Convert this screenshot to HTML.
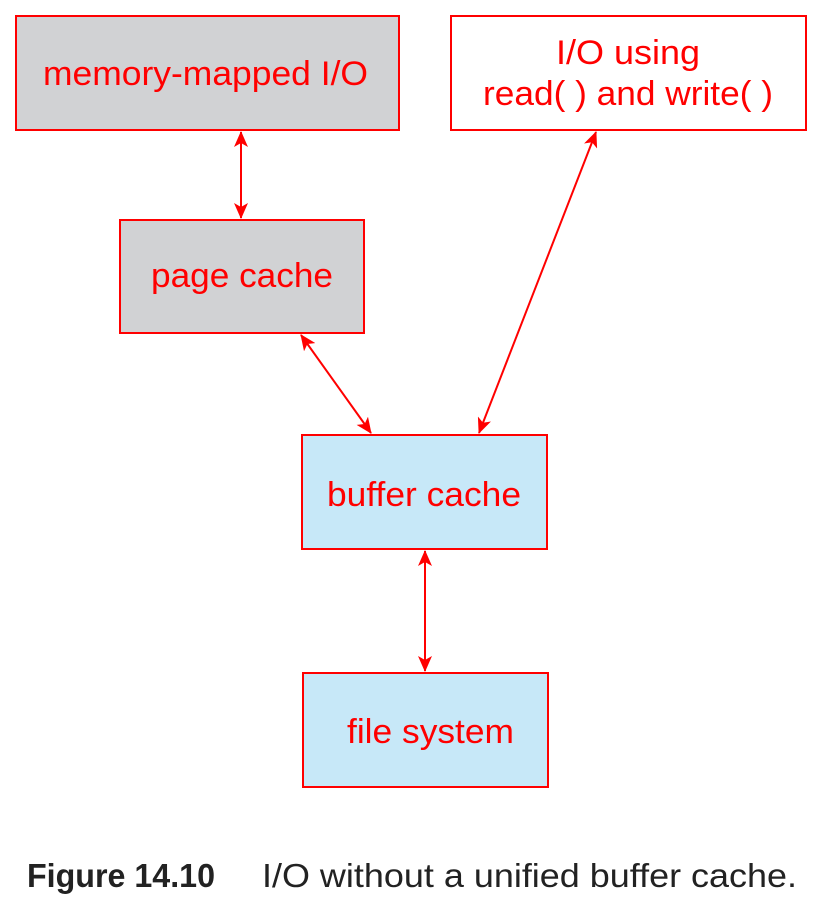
<!DOCTYPE html>
<html><head><style>
body{margin:0;width:823px;height:905px;background:#fff;overflow:hidden;font-family:"Liberation Sans",sans-serif;}
svg{position:absolute;left:0;top:0}
</style></head><body>
<svg width="823" height="905" xmlns="http://www.w3.org/2000/svg">
<defs>
<marker id="a" viewBox="0 0 16 14" refX="15" refY="7" markerWidth="16" markerHeight="14" orient="auto-start-reverse" markerUnits="userSpaceOnUse">
<path d="M0,0 L16,7 L0,14 L4,7 z" fill="#ff0000"/>
</marker>
</defs>
<g stroke="#ff0000" stroke-width="2">
<rect x="16" y="16" width="383" height="114" fill="#d1d2d4"/>
<rect x="451" y="16" width="355" height="114" fill="#fff"/>
<rect x="120" y="220" width="244" height="113" fill="#d1d2d4"/>
<rect x="302" y="435" width="245" height="114" fill="#c7e8f8"/>
<rect x="303" y="673" width="245" height="114" fill="#c7e8f8"/>
<line x1="241" y1="132" x2="241" y2="218" marker-start="url(#a)" marker-end="url(#a)"/>
<line x1="301" y1="335" x2="371" y2="433" marker-start="url(#a)" marker-end="url(#a)"/>
<line x1="596" y1="132" x2="479" y2="433" marker-start="url(#a)" marker-end="url(#a)"/>
<line x1="425" y1="551" x2="425" y2="671" marker-start="url(#a)" marker-end="url(#a)"/>
</g>
<g fill="#ff0000" font-family="Liberation Sans, sans-serif" font-size="34">
<text x="43" y="85" textLength="325" lengthAdjust="spacingAndGlyphs">memory-mapped I/O</text>
<text x="556" y="64" textLength="144" lengthAdjust="spacingAndGlyphs">I/O using</text>
<text x="483" y="105" textLength="290" lengthAdjust="spacingAndGlyphs">read( ) and write( )</text>
<text x="151" y="287" textLength="182" lengthAdjust="spacingAndGlyphs">page cache</text>
<text x="327" y="506" textLength="194" lengthAdjust="spacingAndGlyphs">buffer cache</text>
<text x="347" y="743" textLength="167" lengthAdjust="spacingAndGlyphs">file system</text>
</g>
<g font-family="Liberation Sans, sans-serif" font-size="33" fill="#222">
<text x="27" y="887" font-weight="bold" textLength="188" lengthAdjust="spacingAndGlyphs">Figure 14.10</text>
<text x="262" y="887" textLength="535" lengthAdjust="spacingAndGlyphs">I/O without a unified buffer cache.</text>
</g>
</svg>
</body></html>
